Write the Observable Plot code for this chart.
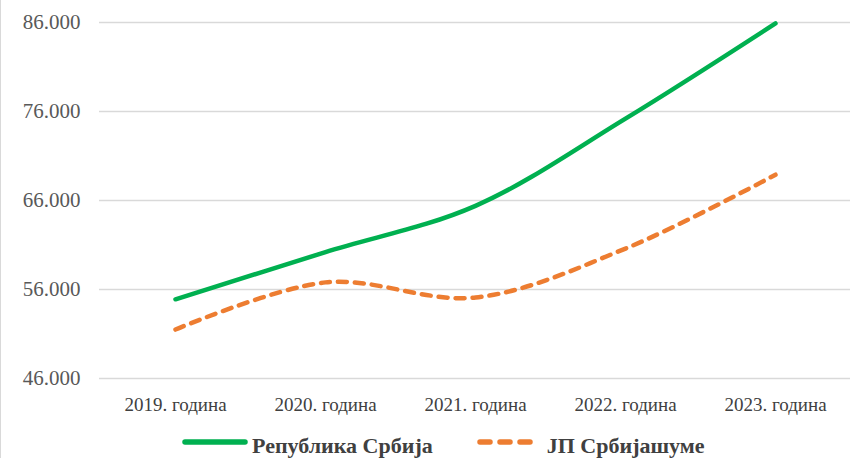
<!DOCTYPE html>
<html>
<head>
<meta charset="utf-8">
<script src="https://cdn.jsdelivr.net/npm/d3@7"></script>
<script src="https://cdn.jsdelivr.net/npm/@observablehq/plot@0.6"></script>
<style>
  html, body { margin: 0; padding: 0; background: #fff; font-family: 'Liberation Serif', serif; }
  #wrap { width: 850px; height: 458px; position: relative; overflow: hidden; border-left: 1px solid #d9d9d9; box-sizing: border-box; }
  #legend { position: absolute; top: 433px; left: 181px; display: flex; gap: 44px; line-height: 25px;
    font-family: 'Liberation Serif', serif; font-weight: bold; font-size: 22px; color: #404040; white-space: nowrap; }
  .item { display: flex; align-items: flex-start; gap: 4px; }
  svg.sw { display: block; }
</style>
</head>
<body>
<div id="wrap">
  <div id="chart"></div>
  <div id="legend"></div>
</div>
<script>
const years = ["2019. година", "2020. година", "2021. година", "2022. година", "2023. година"];
const seriesNames = ["Република Србија", "ЈП Србијашуме"];
const republika = [54900, 60200, 65400, 75200, 85900];
const srbijasume = [51500, 56800, 55100, 60600, 68900];
const yTicks = [46000, 56000, 66000, 76000, 86000];
const colors = ["#00B050", "#ED7D31"];

const data = [
  ...years.map((y, i) => ({year: y, value: republika[i], series: seriesNames[0]})),
  ...years.map((y, i) => ({year: y, value: srbijasume[i], series: seriesNames[1]}))
];

const fmt = d3.formatLocale({decimal: ",", thousands: ".", grouping: [3], currency: ["", ""]}).format(",d");
const serif = "'Liberation Serif', serif";

const chart = Plot.plot({
  width: 849,
  height: 420,
  marginLeft: 98,
  marginRight: 0,
  marginTop: 22,
  marginBottom: 42,
  style: {fontFamily: serif, background: "#fff"},
  x: {type: "point", domain: years, padding: 0.5, label: null},
  y: {domain: [46000, 86000], label: null},
  marks: [
    Plot.ruleY(yTicks, {stroke: "#d9d9d9", strokeWidth: 1.5}),
    Plot.axisY(yTicks, {tickSize: 0, tickPadding: 19, tickFormat: fmt, fontSize: 21, fill: "#595959", label: null}),
    Plot.axisX({tickSize: 0, tickPadding: 19, fontSize: 19, fill: "#404040", label: null}),
    Plot.line(data.filter(d => d.series === seriesNames[0]), {x: "year", y: "value", stroke: colors[0], strokeWidth: 4.5, curve: "catmull-rom", strokeLinecap: "round"}),
    Plot.line(data.filter(d => d.series === seriesNames[1]), {x: "year", y: "value", stroke: colors[1], strokeWidth: 4.5, curve: "catmull-rom", strokeDasharray: "9,8", strokeLinecap: "round"})
  ]
});
d3.select(chart).selectAll("text").style("font-family", serif);
document.getElementById("chart").appendChild(chart);

const legend = document.getElementById("legend");
seriesNames.forEach((name, i) => {
  const item = document.createElement("div");
  item.className = "item";
  const dash = i === 1 ? 'stroke-dasharray="10,10"' : '';
  item.innerHTML = `<svg class="sw" width="66" height="25"><line x1="3" y1="9" x2="63" y2="9" stroke="${colors[i]}" stroke-width="5.5" stroke-linecap="round" ${dash}/></svg><span>${name}</span>`;
  legend.appendChild(item);
});
</script>
</body>
</html>
